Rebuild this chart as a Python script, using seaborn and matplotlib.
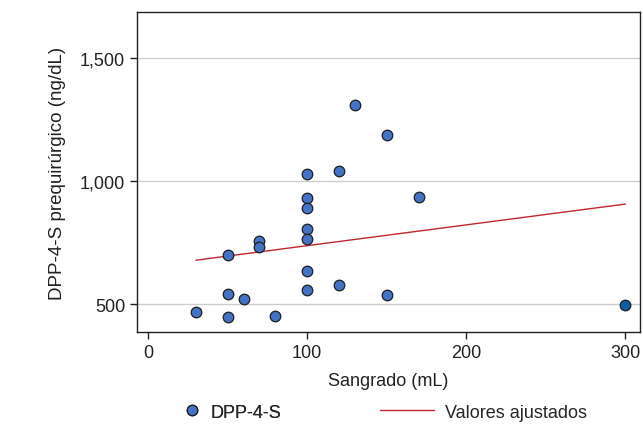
#!/usr/bin/env python
"""
DPP-4-S prequirúrgico vs sangrado, con recta de valores ajustados.
"""

import matplotlib
matplotlib.use("Agg")
import matplotlib.pyplot as plt
import pandas as pd
import seaborn as sns
from matplotlib.lines import Line2D
from matplotlib.ticker import FuncFormatter

sangrado = [30, 50, 50, 50, 60, 70, 70, 80,
            100, 100, 100, 100, 100, 100, 100,
            120, 120, 130, 150, 150, 170, 300]
dpp4s = [470, 700, 540, 446, 521, 757, 732, 452,
         1027, 930, 892, 805, 764, 633, 558,
         1042, 578, 1310, 1186, 538, 936, 497]

x_ticks = [0, 100, 200, 300]
y_ticks = [500, 1000, 1500]


def main() -> None:
    df = pd.DataFrame({"sangrado": sangrado, "dpp4s": dpp4s})

    sns.set_style("white")
    plt.rcParams["font.family"] = ["Liberation Sans", "DejaVu Sans"]
    plt.rcParams["axes.unicode_minus"] = False

    fig = plt.figure(figsize=(6.43, 4.35), dpi=100)
    ax = fig.add_axes([0.213, 0.234, 0.782, 0.736])

    blue = "#4472c4"
    red = "#c0272d"
    sns.scatterplot(data=df.iloc[:-1], x="sangrado", y="dpp4s", ax=ax, s=58,
                    color=blue, edgecolor="#1e1e1e", linewidth=0.9, zorder=3)
    sns.scatterplot(data=df.iloc[-1:], x="sangrado", y="dpp4s", ax=ax, s=58,
                    color="#0d5ea3", edgecolor="#1e1e1e", linewidth=0.9, zorder=3)
    sns.regplot(data=df, x="sangrado", y="dpp4s", ax=ax, ci=None, scatter=False,
                line_kws={"color": red, "linewidth": 1.0, "zorder": 2})

    ax.set_xlim(-7, 309)
    ax.set_ylim(386, 1687)
    ax.set_xticks(x_ticks)
    ax.set_yticks(y_ticks)
    ax.yaxis.set_major_formatter(FuncFormatter(lambda v, p: f"{int(v):,}"))
    ax.grid(axis="y", color="#cccccc", linewidth=1.0)
    ax.set_axisbelow(True)
    for sp in ax.spines.values():
        sp.set_color("#222222")
        sp.set_linewidth(1.0)
    ax.tick_params(axis="both", direction="out", length=5, width=1,
                   color="#222222", labelsize=13, labelcolor="#222222",
                   bottom=True, left=True)
    ax.set_xlabel("Sangrado (mL)", fontsize=13, color="#222222", labelpad=8)
    ax.set_ylabel("DPP-4-S prequirúrgico (ng/dL)", fontsize=13.5, color="#222222", labelpad=10)

    h_pt = Line2D([], [], marker="o", linestyle="none", markersize=7.5,
                  markerfacecolor=blue, markeredgecolor="#1e1e1e", markeredgewidth=0.9)
    h_ln = Line2D([], [], color=red, linewidth=1.0)
    leg1 = fig.legend([h_pt], ["DPP-4-S"], loc="center left",
                      bbox_to_anchor=(183 / 643, 0.05), frameon=False, fontsize=13,
                      handlelength=1.0, handletextpad=0.5, borderpad=0, borderaxespad=0)
    fig.add_artist(leg1)
    fig.legend([h_ln], ["Valores ajustados"], loc="center left",
               bbox_to_anchor=(380 / 643, 0.05), frameon=False, fontsize=13,
               handlelength=3.0, handletextpad=0.6, borderpad=0, borderaxespad=0)

    fig.savefig("out.png", dpi=100)
    plt.close(fig)


if __name__ == "__main__":
    main()
